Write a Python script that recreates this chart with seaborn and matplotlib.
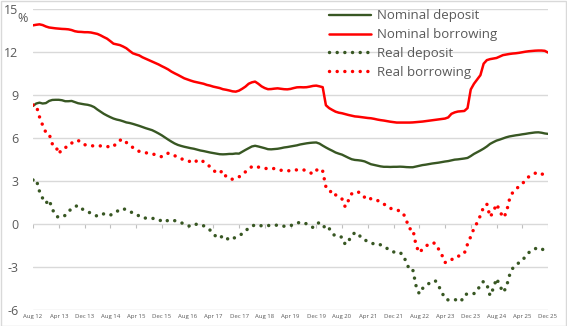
import numpy as np
import pandas as pd
import matplotlib
matplotlib.use("Agg")
import matplotlib.pyplot as plt
from matplotlib.patches import Rectangle
import seaborn as sns

# Monthly data, Aug 2012 .. Dec 2025 (161 months)
nominal_borrowing = [
    13.88, 13.92, 13.95, 13.9, 13.8, 13.73, 13.7, 13.67, 13.65, 13.63,
    13.62, 13.6, 13.55, 13.47, 13.43, 13.42, 13.4, 13.4, 13.38, 13.33,
    13.28, 13.18, 13.06, 12.95, 12.78, 12.6, 12.55, 12.5, 12.4, 12.28,
    12.1, 11.93, 11.85, 11.78, 11.65, 11.55, 11.45, 11.35, 11.25, 11.15,
    11.03, 10.92, 10.8, 10.65, 10.53, 10.42, 10.3, 10.18, 10.1, 10.02,
    9.95, 9.9, 9.85, 9.8, 9.72, 9.67, 9.6, 9.55, 9.5, 9.42,
    9.38, 9.33, 9.27, 9.25, 9.32, 9.45, 9.6, 9.8, 9.9, 9.95,
    9.8, 9.62, 9.5, 9.42, 9.43, 9.46, 9.48, 9.45, 9.42, 9.41,
    9.44, 9.5, 9.55, 9.56, 9.55, 9.56, 9.6, 9.65, 9.67, 9.62,
    9.56, 8.3, 8.1, 7.97, 7.85, 7.78, 7.74, 7.68, 7.62, 7.57,
    7.52, 7.5, 7.47, 7.44, 7.41, 7.39, 7.35, 7.3, 7.26, 7.23,
    7.19, 7.15, 7.12, 7.09, 7.09, 7.09, 7.09, 7.09, 7.1, 7.12,
    7.14, 7.16, 7.19, 7.22, 7.25, 7.28, 7.31, 7.34, 7.37, 7.45,
    7.7, 7.8, 7.86, 7.88, 7.9, 8.1, 9.4, 9.8, 10.1, 10.4,
    11.2, 11.45, 11.52, 11.56, 11.6, 11.7, 11.8, 11.84, 11.88, 11.91,
    11.93, 11.96, 12.0, 12.04, 12.07, 12.09, 12.11, 12.12, 12.12, 12.1,
    11.98,
]
nominal_deposit = [
    8.25, 8.42, 8.48, 8.42, 8.45, 8.6, 8.67, 8.68, 8.68, 8.65,
    8.58, 8.58, 8.6, 8.52, 8.44, 8.4, 8.36, 8.33, 8.27, 8.17,
    8.0, 7.85, 7.7, 7.58, 7.47, 7.37, 7.3, 7.25, 7.18, 7.1,
    7.06, 7.0, 6.93, 6.86, 6.78, 6.7, 6.63, 6.56, 6.45, 6.33,
    6.2, 6.05, 5.9, 5.76, 5.63, 5.53, 5.46, 5.4, 5.35, 5.3,
    5.26, 5.2, 5.14, 5.1, 5.05, 5.0, 4.96, 4.92, 4.88, 4.87,
    4.88, 4.9, 4.9, 4.93, 4.92, 5.05, 5.18, 5.3, 5.42, 5.47,
    5.42, 5.36, 5.3, 5.23, 5.22, 5.24, 5.26, 5.3, 5.35, 5.38,
    5.42, 5.46, 5.5, 5.56, 5.6, 5.64, 5.67, 5.69, 5.7, 5.62,
    5.48, 5.35, 5.23, 5.12, 5.0, 4.92, 4.85, 4.74, 4.63, 4.53,
    4.48, 4.46, 4.43, 4.38, 4.28, 4.18, 4.13, 4.08, 4.03, 4.0,
    4.0, 3.99, 4.0, 4.0, 4.01, 4.0, 3.98, 3.97, 3.97, 4.02,
    4.07, 4.12, 4.15, 4.19, 4.23, 4.26, 4.29, 4.33, 4.37, 4.4,
    4.45, 4.5, 4.52, 4.55, 4.58, 4.62, 4.75, 4.9, 5.02, 5.14,
    5.27, 5.42, 5.6, 5.72, 5.83, 5.9, 5.98, 6.06, 6.12, 6.16,
    6.2, 6.23, 6.27, 6.3, 6.34, 6.37, 6.4, 6.41, 6.38, 6.33,
    6.3,
]
real_deposit = [
    3.08, 3.13, 2.3, 1.8, 1.45, 1.7, 1.05, 0.6, 0.46, 0.55,
    0.6, 0.85, 1.1, 1.22, 1.3, 1.1, 0.95, 0.85, 0.77, 0.65,
    0.55, 0.6, 0.72, 0.68, 0.62, 0.75, 0.88, 1.0, 1.09, 0.98,
    0.86, 0.8, 0.72, 0.55, 0.43, 0.42, 0.42, 0.4, 0.38, 0.32,
    0.2, 0.14, 0.28, 0.28, 0.24, 0.18, 0.1, 0.0, -0.1, -0.17,
    -0.05, 0.0, -0.05, -0.12, -0.28, -0.42, -0.7, -0.88, -1.0, -0.8,
    -0.95, -1.12, -1.02, -0.92, -0.8, -0.68, -0.48, -0.28, -0.15, -0.05,
    -0.08, -0.12, -0.12, -0.1, -0.1, -0.09, -0.07, -0.1, -0.15, -0.17,
    -0.1, -0.05, 0.05, 0.14, 0.08, 0.02, -0.1, -0.24, 0.0, 0.11,
    0.0, -0.4, -0.3, -0.65, -0.85, -0.88, -0.91, -1.42, -1.2, -0.8,
    -0.6, -0.65, -0.98, -1.1, -1.21, -1.3, -1.4, -1.38, -1.45, -1.55,
    -1.7, -1.85, -1.95, -1.91, -2.0, -2.14, -2.7, -3.19, -3.19, -4.3,
    -4.87, -4.5, -4.3, -4.15, -4.0, -3.96, -4.31, -4.75, -5.2, -5.3,
    -5.28, -5.28, -5.3, -5.4, -4.95, -4.87, -4.88, -4.85, -4.7, -4.2,
    -4.0, -4.2, -5.0, -4.5, -3.8, -4.26, -4.77, -4.45, -3.6, -3.1,
    -2.85, -2.7, -2.55, -2.25, -2.0, -1.82, -1.72, -1.65, -1.7, -1.9,
    -1.95,
]
real_borrowing = [
    8.32, 8.3, 7.5, 6.9, 6.4, 6.3, 5.6, 5.5, 4.9, 5.25,
    5.35, 5.41, 5.65, 5.83, 5.83, 5.75, 5.55, 5.48, 5.47, 5.46,
    5.46, 5.46, 5.46, 5.42, 5.38, 5.4, 5.7, 5.85, 5.93, 5.7,
    5.53, 5.35, 5.16, 5.08, 5.02, 4.98, 4.95, 4.9, 4.85, 4.78,
    4.7, 4.8, 4.95, 4.88, 4.78, 4.66, 4.56, 4.5, 4.43, 4.35,
    4.27, 4.45, 4.5, 4.35, 4.2, 4.0, 3.8, 3.55, 3.6, 3.72,
    3.3, 3.18, 3.13, 3.2, 3.3, 3.42, 3.65, 3.82, 4.02, 4.05,
    3.98, 3.95, 3.9, 3.86, 3.87, 3.88, 3.82, 3.76, 3.74, 3.73,
    3.72, 3.75, 3.79, 3.79, 3.79, 3.72, 3.6, 3.5, 3.75, 3.9,
    3.7, 2.6, 2.5, 2.0, 2.04, 1.95, 1.75, 1.2, 1.65, 2.11,
    2.2, 2.27, 2.0, 1.88, 1.97, 1.75, 1.65, 1.65, 1.55, 1.4,
    1.25, 1.1, 1.05, 1.0, 0.9, 0.77, 0.25, -0.33, -0.33, -1.49,
    -2.0, -1.75, -1.55, -1.4, -1.3, -1.35, -1.75, -2.14, -2.68, -2.66,
    -2.5, -2.3, -2.25, -2.18, -2.05, -1.4, -0.87, -0.3, 0.1, 0.6,
    1.2, 1.4, 0.5, 0.85, 1.4, 0.95, 0.45, 0.75, 1.7, 2.2,
    2.45, 2.62, 2.8, 3.09, 3.3, 3.42, 3.55, 3.62, 3.5, 3.45,
    3.42,
]
tick_labels = ["Aug 12", "Apr 13", "Dec 13", "Aug 14", "Apr 15", "Dec 15",
               "Aug 16", "Apr 17", "Dec 17", "Aug 18", "Apr 19", "Dec 19",
               "Aug 20", "Apr 21", "Dec 21", "Aug 22", "Apr 23", "Dec 23",
               "Aug 24", "Apr 25", "Dec 25"]
y_ticks = [-6, -3, 0, 3, 6, 9, 12, 15]

month = np.arange(len(nominal_borrowing))
df = pd.DataFrame({
    "month": month,
    "Nominal deposit": nominal_deposit,
    "Nominal borrowing": nominal_borrowing,
    "Real deposit": real_deposit,
    "Real borrowing": real_borrowing,
})

sns.set_style("white")
plt.rcParams["font.family"] = ["Open Sans", "DejaVu Sans"]

GREEN = "#385723"
RED = "#FF0000"
GRAY_TXT = "#595959"
GRID = "#D9D9D9"

W, H = 567, 326
fig = plt.figure(figsize=(W / 100, H / 100), dpi=100)
ax = fig.add_axes([33 / W, 16 / H, 515 / W, 300.7 / H])

styles = [
    ("Nominal deposit", GREEN, "-", 1.7),
    ("Nominal borrowing", RED, "-", 1.8),
    ("Real deposit", GREEN, (0, (0.01, 2.2)), 2.5),
    ("Real borrowing", RED, (0, (0.01, 2.2)), 2.5),
]
for name, col, ls, lw in styles:
    sns.lineplot(data=df, x="month", y=name, ax=ax, color=col,
                 linewidth=lw, label=name)
    l = ax.get_lines()[-1]
    l.set_linestyle(ls)
    l.set_dash_capstyle("round")
    l.set_solid_capstyle("round")

ax.set_xlim(0, len(month) - 1)
ax.set_ylim(-6, 15)
ax.set_yticks(y_ticks)
ax.set_yticklabels([str(v) for v in y_ticks], color=GRAY_TXT, fontsize=9)
xt = np.arange(0, len(month), 8)
ax.set_xticks(xt)
ax.set_xticklabels(tick_labels, color=GRAY_TXT, fontsize=4.3)
ax.tick_params(axis="y", length=0, pad=10.5)
ax.tick_params(axis="x", length=0, pad=3)
ax.set_xlabel("")
ax.set_ylabel("")
ax.grid(axis="y", color=GRID, linewidth=1.0)
ax.grid(axis="x", visible=False)
ax.set_axisbelow(True)
for s in ax.spines.values():
    s.set_visible(False)
# small tick marks on the zero axis
ax.vlines(xt, -0.28, 0, color="#BFBFBF", linewidth=0.8, zorder=0)

fig.text(17 / W, 1 - 19 / H, "%", ha="left", va="center",
         fontsize=9, color=GRAY_TXT)

leg = ax.legend(loc="upper left", bbox_to_anchor=(329 / W, 1 - 9.5 / H),
                bbox_transform=fig.transFigure, frameon=False,
                fontsize=9.5, handlelength=3.2, handletextpad=0.45,
                labelspacing=0.43, borderpad=0.0, borderaxespad=0.0)
for t in leg.get_texts():
    t.set_color(GRAY_TXT)

fig.patches.append(Rectangle((0.5 / W, 0.5 / H), 1 - 1.5 / W, 1 - 1.5 / H,
                             transform=fig.transFigure, fill=False,
                             edgecolor=GRID, linewidth=1.0))

fig.savefig("out.png", dpi=100)
